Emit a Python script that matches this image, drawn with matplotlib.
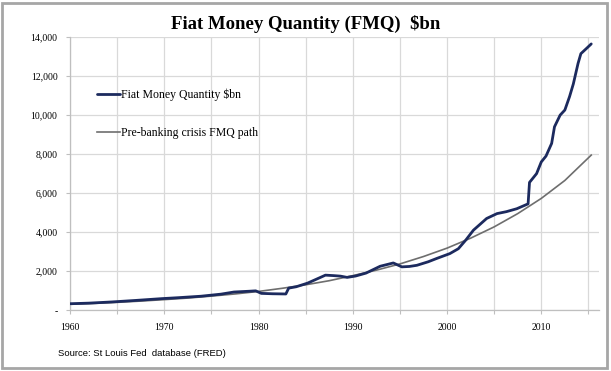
import matplotlib
matplotlib.use('Agg')
import matplotlib.pyplot as plt
from matplotlib.ticker import FuncFormatter, MultipleLocator
from matplotlib.patches import Rectangle

# Fiat money quantity ($bn)
fmq_years = [1960.0, 1962.0, 1964.4, 1967.0, 1969.7, 1971.5, 1973.9, 1976.0, 1977.4,
             1979.0, 1979.7, 1980.3, 1981.5, 1982.9, 1983.2, 1984.0, 1985.2, 1986.2,
             1987.1, 1988.0, 1988.7, 1989.4, 1990.3, 1991.4, 1992.9, 1994.3, 1995.2,
             1996.0, 1996.8, 1998.0, 1998.9, 2000.3, 2001.2, 2002.0, 2002.8, 2004.2,
             2005.3, 2006.3, 2007.4, 2008.6, 2008.75, 2009.5, 2010.0, 2010.5, 2011.1,
             2011.4, 2012.0, 2012.5, 2013.0, 2013.4, 2013.9, 2014.2, 2014.8, 2015.3]
fmq_values = [330, 360, 420, 500, 590, 640, 715, 820, 930,
              970, 990, 860, 840, 830, 1130, 1200, 1385, 1600,
              1795, 1770, 1744, 1680, 1750, 1900, 2250, 2420, 2220,
              2240, 2300, 2480, 2650, 2900, 3150, 3600, 4100, 4700,
              4950, 5050, 5200, 5450, 6550, 7000, 7600, 7900, 8550,
              9400, 10000, 10260, 10950, 11600, 12650, 13150, 13420, 13650]

# pre-banking crisis path
path_years = [1960, 1962.5, 1965, 1967.5, 1970, 1972.5, 1975, 1977.5, 1980, 1982.5,
              1985, 1987.5, 1990, 1992.5, 1995, 1997.5, 2000, 2002.5, 2005, 2007.5,
              2010, 2012.5, 2015.3]
path_values = [300, 345, 400, 465, 540, 620, 720, 830, 960, 1120,
               1300, 1510, 1770, 2050, 2370, 2750, 3180, 3690, 4270, 4950,
               5730, 6650, 7950]

navy = '#1c2a5e'
grey = '#6e6e6e'

fig = plt.figure(figsize=(6.11, 3.71), dpi=100)
ax = fig.add_axes([0.1146, 0.164, 0.8654, 0.736])

ax.plot(fmq_years, fmq_values, color=navy, lw=2.0, solid_capstyle='round',
        solid_joinstyle='round', label='Fiat Money Quantity $bn', zorder=3)
ax.plot(path_years, path_values, color=grey, lw=1.2,
        label='Pre-banking crisis FMQ path', zorder=2)

ax.set_xlim(1960, 2016.1)
ax.set_ylim(0, 14000)
ax.xaxis.set_major_locator(MultipleLocator(10))
ax.xaxis.set_minor_locator(MultipleLocator(5))
ax.yaxis.set_major_locator(MultipleLocator(2000))
ax.yaxis.set_major_formatter(FuncFormatter(lambda v, p: '-' if v == 0 else f'{int(v):,}'))

ax.grid(True, which='both', axis='x', color='#d9d9d9', lw=0.9)
ax.grid(True, which='major', axis='y', color='#d9d9d9', lw=0.9)
ax.set_axisbelow(True)
for s in ['top', 'right']:
    ax.spines[s].set_visible(False)
for s in ['left', 'bottom']:
    ax.spines[s].set_color('#bfbfbf')
    ax.spines[s].set_linewidth(0.9)
ax.tick_params(axis='both', which='both', color='#bfbfbf', length=3, width=0.8)
ax.tick_params(axis='x', pad=6)
ax.tick_params(axis='y', pad=6)
for lab in ax.get_xticklabels() + ax.get_yticklabels():
    lab.set_fontfamily('Liberation Serif')
    lab.set_fontsize(7)

leg = ax.legend(loc='upper left', bbox_to_anchor=(0.03, 0.85), frameon=False,
                prop={'family': 'Liberation Serif', 'size': 8.5},
                handlelength=2.0, handletextpad=0.1, labelspacing=2.2)

fig.text(0.5, 0.935, 'Fiat Money Quantity (FMQ)  $bn', ha='center', va='center',
         fontfamily='Liberation Serif', fontweight='bold', fontsize=13.5)
fig.text(0.095, 0.048, 'Source: St Louis Fed  database (FRED)', ha='left', va='center',
         fontfamily='Liberation Sans', fontsize=6.8)

fig.patches.append(Rectangle((0.003, 0.008), 0.991, 0.985, transform=fig.transFigure,
                             fill=False, edgecolor='#a6a6a6', lw=2.0))

fig.savefig('out.png', dpi=100)
